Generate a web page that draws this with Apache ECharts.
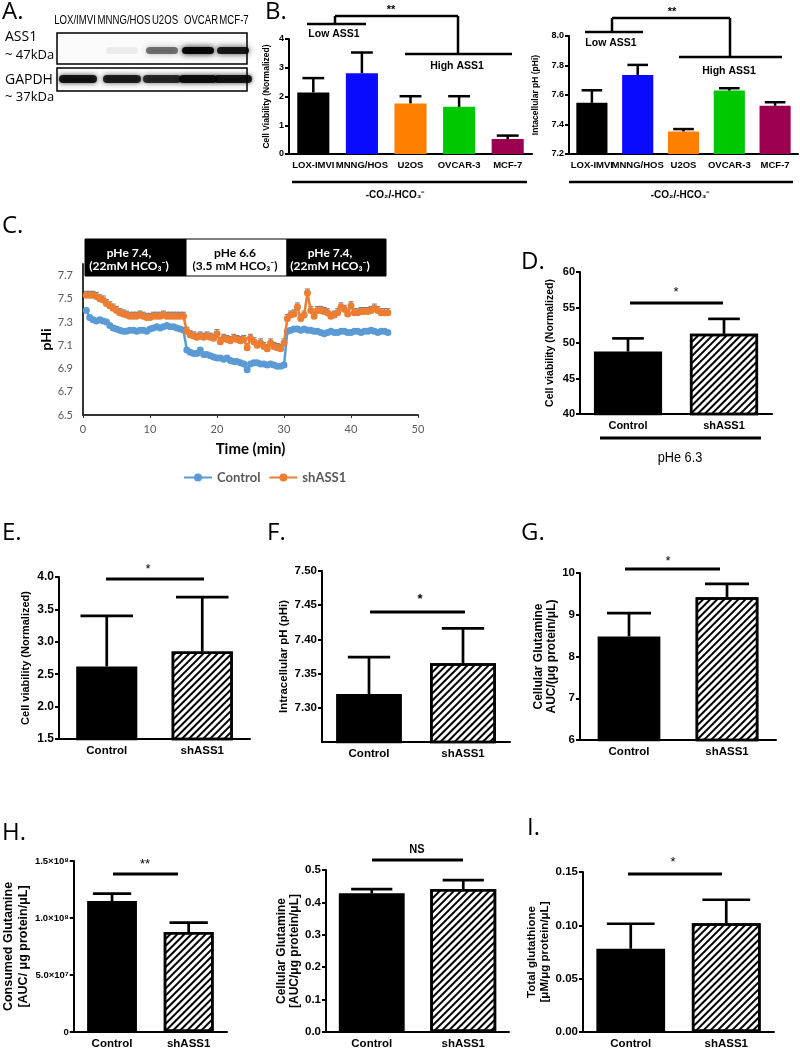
<!DOCTYPE html>
<html>
<head>
<meta charset="utf-8">
<title>ASS1 figure</title>
<script src="https://cdn.jsdelivr.net/npm/echarts@6.0.0/dist/echarts.min.js"></script>
<style>
html,body{margin:0;padding:0;background:#ffffff;}
#chart{width:800px;height:1050px;}
</style>
</head>
<body>
<div id="chart"></div>
<script>
// ================= DATA =================
// Panel A (western blot)
const blotLanes = ['LOX/IMVI', 'MNNG/HOS', 'U2OS', 'OVCAR', 'MCF-7'];
const blotAss1Intensity = [0.0, 0.06, 0.5, 0.95, 0.85];
const blotGapdhIntensity = [0.85, 0.8, 0.75, 0.88, 0.85];

// Panel B
const cellLines = ['LOX-IMVI', 'MNNG/HOS', 'U2OS', 'OVCAR-3', 'MCF-7'];
const bViability = [2.14, 2.81, 1.76, 1.64, 0.52];
const bViabilityErr = [0.50, 0.72, 0.25, 0.37, 0.12];
const bPHi = [7.547, 7.736, 7.353, 7.630, 7.527];
const bPHiErr = [0.085, 0.068, 0.016, 0.016, 0.024];

// Panel C (time course)
const cTime = [0.5,1,1.5,2,2.5,3,3.5,4,4.5,5,5.5,6,6.5,7,7.5,8,8.5,9,9.5,10,
  10.5,11,11.5,12,12.5,13,13.5,14,14.5,15,15.5,16,16.5,17,17.5,18,18.5,19,19.5,20,
  20.5,21,21.5,22,22.5,23,23.5,24,24.5,25,25.5,26,26.5,27,27.5,28,28.5,29,29.5,30,
  30.5,31,31.5,32,32.5,33,33.5,34,34.5,35,35.5,36,36.5,37,37.5,38,38.5,39,39.5,40,
  40.5,41,41.5,42,42.5,43,43.5,44,44.5,45,45.5];
const cControl = [7.40,7.34,7.32,7.31,7.32,7.31,7.30,7.27,7.25,7.24,
  7.23,7.22,7.22,7.23,7.23,7.22,7.23,7.23,7.22,7.24,
  7.25,7.26,7.25,7.26,7.27,7.26,7.26,7.25,7.24,7.23,
  7.06,7.04,7.03,7.03,7.06,7.02,7.02,7.01,7.00,6.99,
  6.99,6.98,6.99,6.97,6.96,6.96,6.95,6.94,6.89,6.94,
  6.95,6.95,6.94,6.94,6.93,6.94,6.93,6.92,6.92,6.93,
  7.22,7.23,7.24,7.24,7.23,7.24,7.23,7.23,7.22,7.22,
  7.21,7.20,7.21,7.22,7.21,7.21,7.22,7.22,7.21,7.21,
  7.22,7.22,7.21,7.22,7.22,7.23,7.22,7.21,7.22,7.22,
  7.21];
const cShASS1 = [7.53,7.53,7.53,7.52,7.50,7.49,7.46,7.44,7.42,7.40,
  7.38,7.37,7.36,7.35,7.35,7.35,7.36,7.35,7.34,7.34,
  7.35,7.35,7.35,7.36,7.35,7.35,7.35,7.35,7.35,7.35,
  7.22,7.19,7.18,7.17,7.18,7.17,7.18,7.17,7.16,7.20,
  7.13,7.16,7.15,7.14,7.16,7.15,7.14,7.15,7.08,7.16,
  7.13,7.10,7.12,7.09,7.07,7.12,7.09,7.08,7.07,7.12,
  7.33,7.36,7.37,7.43,7.33,7.36,7.55,7.40,7.35,7.40,
  7.40,7.39,7.38,7.35,7.36,7.38,7.43,7.41,7.37,7.44,
  7.38,7.38,7.39,7.39,7.39,7.40,7.42,7.40,7.38,7.38,
  7.38];
const cErrControl = 0.015;
const cErrShASS1 = 0.035;
const cYTicks = [6.5, 6.7, 6.9, 7.1, 7.3, 7.5, 7.7];

// Panels D-I
const groups = ['Control', 'shASS1'];
const dViability = [48.8, 51.3];
const dViabilityErr = [1.85, 2.1];
const eViability = [2.62, 2.85];
const eViabilityErr = [0.78, 0.84];
const fPHi = [7.320, 7.365];
const fPHiErr = [0.054, 0.051];
const gCellGln = [8.48, 9.42];
const gCellGlnErr = [0.56, 0.32];
const hConsumedGln = [1.149e8, 0.877e8];
const hConsumedGlnErr = [0.064e8, 0.082e8];
const hCellGln = [0.428, 0.441];
const hCellGlnErr = [0.013, 0.028];
const iGlutathione = [0.078, 0.102];
const iGlutathioneErr = [0.0235, 0.022];

// ================= STYLE =================
const SANS = "'Liberation Sans',Arial,Helvetica,sans-serif";
const LETTER = "'Open Sans','Noto Sans',sans-serif";
const CAL = "Lato,'Open Sans',sans-serif";
const cellColors = ['#000000', '#0a0aff', '#ff8000', '#00c800', '#9b0050'];
const hatch = {symbol: 'rect', symbolSize: 1, color: '#000', dashArrayX: [1, 0], dashArrayY: [1.6, 2.6], rotation: -Math.PI / 4};

const grids = [], xAxes = [], yAxes = [], series = [];

function errRender(capRatio, w) {
  return function (params, api) {
    const x = api.value(0), v = api.value(1), e = api.value(2);
    const p0 = api.coord([x, v]);
    const p1 = api.coord([x, v + e]);
    const band = api.size([1, 0])[0];
    const hw = band * capRatio / 2;
    const st = {stroke: '#000', lineWidth: w};
    return {type: 'group', children: [
      {type: 'line', shape: {x1: p0[0], y1: p0[1], x2: p1[0], y2: p1[1]}, style: st},
      {type: 'line', shape: {x1: p1[0] - hw, y1: p1[1], x2: p1[0] + hw, y2: p1[1]}, style: st}
    ]};
  };
}

function addBarPanel(p) {
  const gi = grids.length;
  grids.push(p.grid);
  xAxes.push({
    type: 'category', gridIndex: gi, data: p.cats,
    axisLine: {lineStyle: {color: '#000', width: 2}},
    axisTick: {show: false},
    axisLabel: {color: '#000', fontWeight: 'bold', fontFamily: SANS, fontSize: p.catSize, margin: p.catMargin || 6, interval: 0}
  });
  yAxes.push({
    type: 'value', gridIndex: gi, min: p.min, max: p.max, interval: p.interval,
    splitLine: {show: false},
    axisLine: {show: true, lineStyle: {color: '#000', width: 2}},
    axisTick: {show: true, length: 4, lineStyle: {color: '#000', width: 2}},
    axisLabel: {color: '#000', fontWeight: 'bold', fontFamily: SANS, fontSize: p.tickSize, margin: 5, formatter: p.fmt, showMinLabel: !p.hideMin},
    name: p.name, nameLocation: 'middle', nameGap: p.nameGap,
    nameTextStyle: {color: '#000', fontWeight: 'bold', fontFamily: SANS, fontSize: p.nameSize, lineHeight: p.nameLH || (p.nameSize + 3)}
  });
  series.push({
    type: 'bar', xAxisIndex: gi, yAxisIndex: gi, barWidth: p.barWidth, z: 2,
    data: p.vals.map((v, i) => ({value: v, itemStyle: p.style(i)}))
  });
  series.push({
    type: 'custom', xAxisIndex: gi, yAxisIndex: gi, z: 3,
    renderItem: errRender(p.cap, p.errW || 2.7),
    data: p.vals.map((v, i) => [i, v, p.errs[i]])
  });
}

const fixed = d => v => v.toFixed(d);
const SUP = '⁰¹²³⁴⁵⁶⁷⁸⁹';
function sci(v) {
  if (v === 0) return '0';
  const e = Math.floor(Math.log10(v) + 1e-9);
  const m = v / Math.pow(10, e);
  return m.toFixed(1) + '×10' + String(e).split('').map(c => SUP[+c]).join('');
}
const twoStyle = i => i === 0
  ? {color: '#000', borderColor: '#000', borderWidth: 2.5}
  : {color: '#fff', borderColor: '#000', borderWidth: 2.5, decal: hatch};

// B left
addBarPanel({grid: {left: 289, top: 39, width: 243, height: 115}, cats: cellLines, vals: bViability, errs: bViabilityErr,
  min: 0, max: 4, interval: 1, fmt: fixed(0), tickSize: 9, catSize: 9.5,
  name: 'Cell Viability (Normalized)', nameGap: 17, nameSize: 8.5, barWidth: '66%', cap: 0.45, errW: 2.5,
  style: i => ({color: cellColors[i]})});
// B right
addBarPanel({grid: {left: 569, top: 36, width: 229, height: 118}, cats: cellLines, vals: bPHi, errs: bPHiErr,
  min: 7.2, max: 8.0, interval: 0.2, fmt: fixed(1), tickSize: 9, catSize: 9.5,
  name: 'Intacellular pH (pHi)', nameGap: 28, nameSize: 8.5, barWidth: '68%', cap: 0.45, errW: 2.5,
  style: i => ({color: cellColors[i]})});

// C (time course)
const cGi = grids.length;
grids.push({left: 83, top: 264, width: 335, height: 151});
xAxes.push({type: 'value', gridIndex: cGi, min: 0, max: 50, interval: 10,
  splitLine: {show: false},
  axisLine: {lineStyle: {color: '#333', width: 2}},
  axisTick: {show: true, length: 3, lineStyle: {color: '#333'}},
  axisLabel: {color: '#595959', fontFamily: CAL, fontSize: 11, margin: 9},
  name: 'Time (min)', nameLocation: 'middle', nameGap: 27,
  nameTextStyle: {color: '#000', fontWeight: 'bold', fontFamily: CAL, fontSize: 15}});
yAxes.push({type: 'value', gridIndex: cGi, min: 6.5, max: 7.8,
  splitLine: {show: false},
  axisLine: {show: true, lineStyle: {color: '#333', width: 2}},
  axisTick: {show: false, customValues: cYTicks},
  axisLabel: {color: '#595959', fontFamily: CAL, fontSize: 11, margin: 10, customValues: cYTicks, formatter: fixed(1)},
  name: 'pHi', nameLocation: 'middle', nameGap: 24,
  nameTextStyle: {color: '#000', fontWeight: 'bold', fontFamily: CAL, fontSize: 14}});

function cErrRender(err) {
  return function (params, api) {
    const t = api.value(0), v = api.value(1);
    const p = api.coord([t, v]);
    const pu = api.coord([t, v + err]);
    const pl = api.coord([t - 0.3, v]);
    const pr = api.coord([t + 0.3, v]);
    const st = {stroke: '#777', lineWidth: 1};
    return {type: 'group', children: [
      {type: 'line', shape: {x1: pl[0], y1: p[1], x2: pr[0], y2: p[1]}, style: st},
      {type: 'line', shape: {x1: pl[0], y1: p[1] - 2.5, x2: pl[0], y2: p[1] + 2.5}, style: st},
      {type: 'line', shape: {x1: pr[0], y1: p[1] - 2.5, x2: pr[0], y2: p[1] + 2.5}, style: st},
      {type: 'line', shape: {x1: p[0], y1: p[1], x2: pu[0], y2: pu[1]}, style: st},
      {type: 'line', shape: {x1: p[0] - 2.5, y1: pu[1], x2: p[0] + 2.5, y2: pu[1]}, style: st}
    ]};
  };
}
series.push({name: 'errControl', type: 'custom', xAxisIndex: cGi, yAxisIndex: cGi, z: 1,
  renderItem: cErrRender(cErrControl), data: cTime.map((t, i) => [t, cControl[i]])});
series.push({name: 'errShASS1', type: 'custom', xAxisIndex: cGi, yAxisIndex: cGi, z: 1,
  renderItem: cErrRender(cErrShASS1), data: cTime.map((t, i) => [t, cShASS1[i]])});
series.push({name: 'Control', type: 'line', xAxisIndex: cGi, yAxisIndex: cGi, z: 3,
  symbol: 'circle', symbolSize: 7, showSymbol: true,
  itemStyle: {color: '#5b9bd5'}, lineStyle: {color: '#5b9bd5', width: 2.5},
  data: cTime.map((t, i) => [t, cControl[i]])});
series.push({name: 'shASS1', type: 'line', xAxisIndex: cGi, yAxisIndex: cGi, z: 4,
  symbol: 'circle', symbolSize: 7, showSymbol: true,
  itemStyle: {color: '#ed7d31'}, lineStyle: {color: '#ed7d31', width: 2.5},
  data: cTime.map((t, i) => [t, cShASS1[i]])});

// D
addBarPanel({grid: {left: 580, top: 272, width: 192, height: 142}, cats: groups, vals: dViability, errs: dViabilityErr,
  min: 40, max: 60, interval: 5, fmt: fixed(0), tickSize: 11, catSize: 11,
  name: 'Cell viability (Normalized)', nameGap: 23, nameSize: 10.5, barWidth: '71%', cap: 0.33, style: twoStyle});
// E
addBarPanel({grid: {left: 59, top: 577, width: 191, height: 162}, cats: groups, vals: eViability, errs: eViabilityErr,
  min: 1.5, max: 4.0, interval: 0.5, fmt: fixed(1), tickSize: 12, catSize: 11.5,
  name: 'Cell viability (Normalized)', nameGap: 25, nameSize: 11, barWidth: '64%', cap: 0.55, style: twoStyle});
// F
addBarPanel({grid: {left: 322, top: 571, width: 188, height: 171}, cats: groups, vals: fPHi, errs: fPHiErr,
  min: 7.25, max: 7.5, interval: 0.05, fmt: fixed(2), tickSize: 11.5, catSize: 11.5, hideMin: true,
  name: 'Intracellular pH (pHi)', nameGap: 28, nameSize: 11.5, barWidth: '70%', cap: 0.45, style: twoStyle});
// G
addBarPanel({grid: {left: 580, top: 573, width: 196, height: 167}, cats: groups, vals: gCellGln, errs: gCellGlnErr,
  min: 6, max: 10, interval: 1, fmt: fixed(0), tickSize: 11.5, catSize: 11.5,
  name: 'Cellular Glutamine\nAUC/(μg protein/μL)', nameGap: 20, nameSize: 12, nameLH: 13, barWidth: '64%', cap: 0.45, style: twoStyle});
// H left
addBarPanel({grid: {left: 57, top: 861, width: 170, height: 171}, cats: groups, vals: hConsumedGln, errs: hConsumedGlnErr,
  min: 0, max: 1.5e8, interval: 5e7, fmt: sci, tickSize: 9.5, catSize: 11.5,
  name: 'Consumed Glutamine\n[AUC/ μg protein/μL]', nameGap: 22, nameSize: 12.5, nameLH: 15, barWidth: '65%', cap: 0.5, style: twoStyle});
// H middle
addBarPanel({grid: {left: 326, top: 870, width: 183, height: 162}, cats: groups, vals: hCellGln, errs: hCellGlnErr,
  min: 0, max: 0.5, interval: 0.1, fmt: fixed(1), tickSize: 11.5, catSize: 11.5,
  name: 'Cellular Glutamine\n[AUC/μg protein/μL]', nameGap: 22, nameSize: 12, nameLH: 13, barWidth: '72%', cap: 0.45, style: twoStyle});
// I
addBarPanel({grid: {left: 583, top: 872, width: 191, height: 160}, cats: groups, vals: iGlutathione, errs: iGlutathioneErr,
  min: 0, max: 0.15, interval: 0.05, fmt: fixed(2), tickSize: 11.5, catSize: 11.5,
  name: 'Total glutathione\n[μM/μg protein/μL]', nameGap: 26, nameSize: 11.5, nameLH: 13, barWidth: '72%', cap: 0.5, style: twoStyle});

// ================= ANNOTATIONS =================
const G = [];
function L(x1, y1, x2, y2, w) {
  G.push({type: 'line', z: 10, shape: {x1, y1, x2, y2}, style: {stroke: '#000', lineWidth: w || 2.5}});
}
function T(x, y, text, font, extra, sx) {
  G.push({type: 'text', z: 10, x, y, scaleX: sx || 1, style: Object.assign({text, font, fill: '#000', align: 'center', verticalAlign: 'middle'}, extra || {})});
}
function R(x, y, w, h, fill, stroke, lw) {
  G.push({type: 'rect', z: 9, shape: {x, y, width: w, height: h}, style: {fill, stroke: stroke || null, lineWidth: lw || 1}});
}

// Panel letters
const letterFont = '24px ' + LETTER;
[['A.', 2, 12], ['B.', 265, 12], ['C.', 2, 226], ['D.', 521, 262], ['E.', 2, 533],
 ['F.', 267, 533], ['G.', 521, 533], ['H.', 2, 833], ['I.', 527, 828]].forEach(l => T(l[1], l[2], l[0], letterFont, {align: 'left'}));

// Panel A blot
const laneX = [78, 122, 162, 198, 233];
blotLanes.forEach((lab, i) => T([75, 124, 165, 201, 234][i], 21, lab, '12px ' + SANS, null, 0.8));
T(5, 37, 'ASS1', '14px ' + LETTER, {align: 'left'});
T(5, 55, '~ 47kDa', '13px ' + LETTER, {align: 'left'});
T(5, 80, 'GAPDH', '14px ' + LETTER, {align: 'left'});
T(5, 97, '~ 37kDa', '13px ' + LETTER, {align: 'left'});
R(57, 33, 190, 31, '#fbfbfb', '#000', 1.5);
R(57, 68, 190, 23, '#fbfbfb', '#000', 1.5);
laneX.forEach((cx, i) => {
  const a = blotAss1Intensity[i], g = blotGapdhIntensity[i];
  G.push({type: 'rect', z: 9, shape: {x: cx - 16, y: 47, width: 32, height: 7, r: 3.5},
    style: {fill: 'rgba(0,0,0,' + a + ')', shadowBlur: 6, shadowColor: 'rgba(0,0,0,' + a + ')'}});
  G.push({type: 'rect', z: 9, shape: {x: cx - 19, y: 75, width: 38, height: 8, r: 4},
    style: {fill: 'rgba(0,0,0,' + g + ')', shadowBlur: 5, shadowColor: 'rgba(0,0,0,' + g + ')'}});
});

// Panel B brackets
const bf = 'bold 10.5px ' + SANS;
L(307, 24, 366, 24); L(335, 24, 335, 16); L(335, 16, 458, 16); L(458, 16, 458, 54); L(405, 54, 512, 54);
T(391, 10, '**', 'bold 11px ' + SANS); T(334, 34, 'Low ASS1', bf); T(457, 66, 'High ASS1', bf);
L(292, 182, 527, 182); T(395, 195, '-CO₂/-HCO₃⁻', 'bold 10px ' + SANS);
L(585, 32, 643, 32); L(612, 32, 612, 18); L(612, 18, 730, 18); L(730, 18, 730, 57); L(679, 57, 782, 57);
T(672, 12, '**', 'bold 11px ' + SANS); T(611, 43, 'Low ASS1', bf); T(729, 71, 'High ASS1', bf);
L(569, 182, 793, 182); T(680, 195, '-CO₂/-HCO₃⁻', 'bold 10px ' + SANS);

// Panel C phase boxes
const pf = 'bold 12px ' + CAL;
R(85, 239, 101, 37, '#000', '#000', 1);
R(186, 239, 101, 37, '#fff', '#000', 1);
R(287, 239, 99, 37, '#000', '#000', 1);
T(129, 253, 'pHe 7.4,', pf, {fill: '#fff'}); T(129, 266, '(22mM HCO₃⁻)', pf, {fill: '#fff'});
T(235, 253, 'pHe 6.6', pf); T(235, 266, '(3.5 mM HCO₃⁻)', pf);
T(330, 253, 'pHe 7.4,', pf, {fill: '#fff'}); T(330, 266, '(22mM HCO₃⁻)', pf, {fill: '#fff'});

// Panel D-I significance
const sf = '13px ' + SANS;
L(630, 303, 723, 303, 3); T(676, 292, '*', sf);
L(600, 438, 761, 438, 3); T(680, 458, 'pHe 6.3', '15px ' + SANS, null, 0.85);
L(106, 579, 204, 579, 3); T(148, 569, '*', sf);
L(370, 612, 465, 612, 3); T(420, 599, '*', 'bold 13px ' + SANS);
L(625, 569, 720, 569, 3); T(668, 561, '*', sf);
L(113, 874, 178, 874, 3); T(145, 864, '**', sf);
L(372, 860, 463, 860, 3); T(417, 849, 'NS', 'bold 13px ' + SANS, null, 0.85);
L(628, 874, 722, 874, 3); T(673, 862, '*', sf);

// ================= CHART =================
const chart = echarts.init(document.getElementById('chart'), null, {renderer: 'canvas'});
chart.setOption({
  animation: false,
  backgroundColor: '#fff',
  grid: grids,
  xAxis: xAxes,
  yAxis: yAxes,
  legend: {
    data: ['Control', 'shASS1'], left: 178, top: 466, itemGap: 8, itemWidth: 28, itemHeight: 10,
    textStyle: {color: '#595959', fontWeight: 'bold', fontSize: 13, fontFamily: CAL}
  },
  series: series,
  graphic: G
});
</script>
</body>
</html>
